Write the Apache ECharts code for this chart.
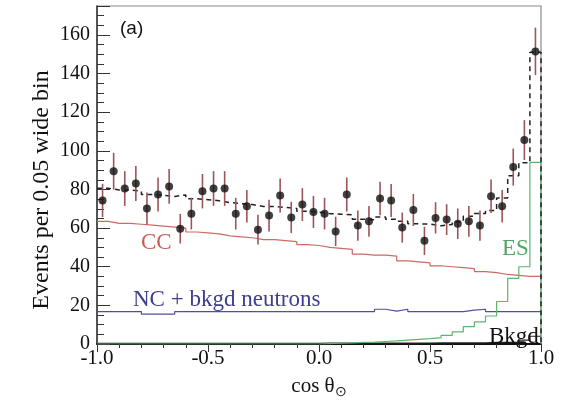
<!DOCTYPE html>
<html>
<head>
<meta charset="utf-8">
<script src="https://cdn.jsdelivr.net/npm/echarts@6/dist/echarts.min.js"></script>
<style>
  html, body { margin: 0; padding: 0; background: #fff; }
  #chart { width: 561px; height: 405px; }
</style>
</head>
<body>
<div id="chart"></div>
<script>
// cos(theta_sun) distribution, 40 bins of width 0.05 from -1 to 1
const binStart = -1.0;
const binWidth = 0.05;

// Measured events per bin and their uncertainties
const observed = [74.3, 89.5, 80.5, 83.1, 70.1, 77.4, 81.6, 59.7, 67.5, 79.1,
                  80.5, 80.5, 67.5, 71.3, 59.2, 66.5, 76.9, 65.5, 72.2, 68.4,
                  67.5, 58.3, 77.4, 61.3, 63.5, 75.3, 74.3, 60.3, 69.4, 53.4,
                  65.3, 64.4, 62.3, 63.5, 61.3, 76.5, 71.3, 91.6, 105.6, 151.5];
const observedErr = [8.6, 9.5, 9.0, 9.1, 8.4, 8.8, 9.0, 7.7, 8.2, 8.9,
                     9.0, 9.0, 8.2, 8.4, 7.7, 8.2, 8.8, 8.1, 8.5, 8.3,
                     8.2, 7.6, 8.8, 7.8, 8.0, 8.7, 8.6, 7.8, 8.3, 7.3,
                     8.1, 8.0, 7.9, 8.0, 7.8, 8.7, 8.4, 9.6, 10.3, 12.3];

// Fitted components
const cc = [63.5, 62.5, 62.5, 62.0, 61.5, 61.0, 60.5, 60.0, 58.0, 57.5,
            57.0, 56.0, 55.5, 55.0, 54.0, 54.0, 53.5, 53.0, 51.5, 51.0,
            50.0, 49.5, 49.0, 46.5, 46.0, 46.0, 45.5, 43.0, 42.5, 42.0,
            40.5, 40.0, 39.5, 39.0, 37.5, 37.0, 36.0, 35.5, 35.0, 35.0];
const ncNeutrons = [16.8, 16.8, 16.8, 16.8, 15.5, 15.5, 15.5, 16.8, 16.8, 16.8,
                    16.8, 16.8, 16.8, 16.8, 16.8, 16.8, 16.8, 16.8, 16.8, 16.8,
                    16.8, 16.8, 16.8, 16.8, 16.8, 18.0, 17.0, 18.0, 16.8, 16.8,
                    16.8, 16.8, 16.8, 17.5, 18.0, 16.8, 16.8, 16.8, 16.8, 16.8];
const es = [0, 0, 0, 0, 0, 0, 0, 0, 0, 0,
            0, 0, 0, 0, 0, 0, 0, 0, 0, 0,
            0.2, 0.4, 0.6, 0.8, 1.0, 1.3, 1.6, 2.0, 2.4, 2.8,
            3.3, 4.5, 6.3, 9.0, 11.5, 14.5, 22.0, 34.0, 40.0, 94.0];
const bkgd = [0.4, 0.4, 0.4, 0.4, 0.4, 0.4, 0.4, 0.4, 0.4, 0.4,
              0.4, 0.4, 0.4, 0.4, 0.4, 0.4, 0.4, 0.4, 0.4, 0.4,
              0.5, 0.5, 0.5, 0.5, 0.5, 0.5, 0.5, 0.5, 0.5, 0.5,
              0.6, 0.6, 0.6, 0.6, 0.6, 0.8, 0.8, 0.8, 2.0, 4.0];
// Total fit (dashed)
const totalFit = [80.7, 79.7, 79.7, 79.2, 77.4, 76.9, 76.4, 77.2, 75.2, 74.7,
                  74.2, 73.2, 72.7, 72.2, 71.2, 71.2, 70.7, 70.2, 68.7, 68.2,
                  67.5, 67.2, 66.9, 64.6, 64.3, 65.8, 64.6, 63.5, 62.2, 62.1,
                  61.2, 61.9, 63.2, 66.1, 67.6, 69.1, 75.6, 87.1, 93.8, 151.0];

const xTicks = [-1.0, -0.5, 0.0, 0.5, 1.0];

// Build a staircase outline for a binned histogram
function steps(values, dropAtEnd) {
  const pts = [];
  values.forEach((v, i) => {
    const lo = binStart + i * binWidth;
    pts.push([lo, v], [lo + binWidth, v]);
  });
  if (dropAtEnd) pts.push([binStart + values.length * binWidth, 0]);
  return pts;
}
const centers = observed.map((_, i) => binStart + (i + 0.5) * binWidth);

const serif = '"Liberation Serif", "Times New Roman", serif';

const chart = echarts.init(document.getElementById('chart'), null, { renderer: 'canvas' });

function histLine(name, values, color, width, dashed, drop, z) {
  return {
    name: name,
    type: 'line',
    data: steps(values, drop),
    symbol: 'none',
    silent: true,
    animation: false,
    z: z,
    lineStyle: { color: color, width: width, type: dashed ? [5, 4] : 'solid' }
  };
}

chart.setOption({
  backgroundColor: '#ffffff',
  animation: false,
  grid: { left: 97, right: 20, top: 6, bottom: 61, show: true, borderColor: '#8a8a8a', borderWidth: 1.2 },
  xAxis: {
    type: 'value',
    min: -1, max: 1, interval: 0.5,
    name: '{m|cos θ}{s|⊙}',
    nameLocation: 'middle',
    nameGap: 29,
    nameTextStyle: {
      rich: {
        m: { fontFamily: serif, fontSize: 21, color: '#111' },
        s: { fontFamily: serif, fontSize: 14, color: '#111', verticalAlign: 'bottom', padding: [12, 0, 0, 0] }
      }
    },
    axisLine: { show: true, onZero: false, lineStyle: { color: '#111', width: 2 } },
    axisTick: { show: true, inside: false, length: 8, lineStyle: { color: '#333', width: 1 } },
    minorTick: { show: true, splitNumber: 5, length: 4, lineStyle: { color: '#333', width: 1 } },
    splitLine: { show: false },
    axisLabel: {
      fontFamily: serif, fontSize: 21, color: '#111', margin: 4,
      formatter: v => (xTicks.some(t => Math.abs(t - v) < 1e-9) ? v.toFixed(1) : '')
    }
  },
  yAxis: {
    type: 'value',
    min: 0, max: 175, interval: 20,
    axisLine: { show: true, onZero: false, lineStyle: { color: '#333', width: 1.5 } },
    axisTick: { show: true, inside: true, length: 13, lineStyle: { color: '#333', width: 1 } },
    minorTick: { show: true, splitNumber: 4, length: 7, lineStyle: { color: '#333', width: 1 } },
    splitLine: { show: false },
    axisLabel: {
      fontFamily: serif, fontSize: 20, color: '#111', margin: 7,
      formatter: v => (v % 20 === 0 ? String(v) : '')
    }
  },
  series: [
    histLine('Bkgd', bkgd, '#222222', 1.2, false, false, 2),
    histLine('NC + bkgd neutrons', ncNeutrons, '#4e4ea6', 1.2, false, false, 2),
    histLine('CC', cc, '#cc6a66', 1.2, false, false, 2),
    histLine('ES', es, '#5cb56c', 1.2, false, true, 2),
    histLine('Total', totalFit, '#222222', 1.5, true, true, 3),
    {
      name: 'errors',
      type: 'custom',
      silent: true,
      z: 4,
      data: observed.map((v, i) => [centers[i], v, observedErr[i]]),
      renderItem: function (params, api) {
        const x = api.value(0), y = api.value(1), e = api.value(2);
        const p1 = api.coord([x, y - e]);
        const p2 = api.coord([x, y + e]);
        return {
          type: 'line',
          shape: { x1: p1[0], y1: p1[1], x2: p2[0], y2: p2[1] },
          style: { stroke: '#9c5656', lineWidth: 1.6 }
        };
      }
    },
    {
      name: 'Data',
      type: 'scatter',
      z: 5,
      symbol: 'circle',
      symbolSize: 8,
      itemStyle: { color: '#111111' },
      data: observed.map((v, i) => [centers[i], v])
    }
  ],
  graphic: [
    { type: 'text', x: 42, y: 190, rotation: Math.PI / 2, z: 10,
      style: { text: 'Events per 0.05 wide bin', font: '24px ' + serif, fill: '#111',
               textAlign: 'center', textVerticalAlign: 'middle' } },
    { type: 'text', left: 120, top: 19, z: 10,
      style: { text: '(a)', font: '19px "Liberation Sans", Arial, sans-serif', fill: '#111' } },
    { type: 'text', left: 141, top: 231, z: 10,
      style: { text: 'CC', font: '23px ' + serif, fill: '#c65e58' } },
    { type: 'text', left: 133, top: 288, z: 10,
      style: { text: 'NC + bkgd neutrons', font: '23px ' + serif, fill: '#3d3d92' } },
    { type: 'text', left: 502, top: 237, z: 10,
      style: { text: 'ES', font: '23px ' + serif, fill: '#4fa862' } },
    { type: 'text', left: 489, top: 325, z: 10,
      style: { text: 'Bkgd', font: '23px ' + serif, fill: '#111' } }
  ]
});
</script>
</body>
</html>
